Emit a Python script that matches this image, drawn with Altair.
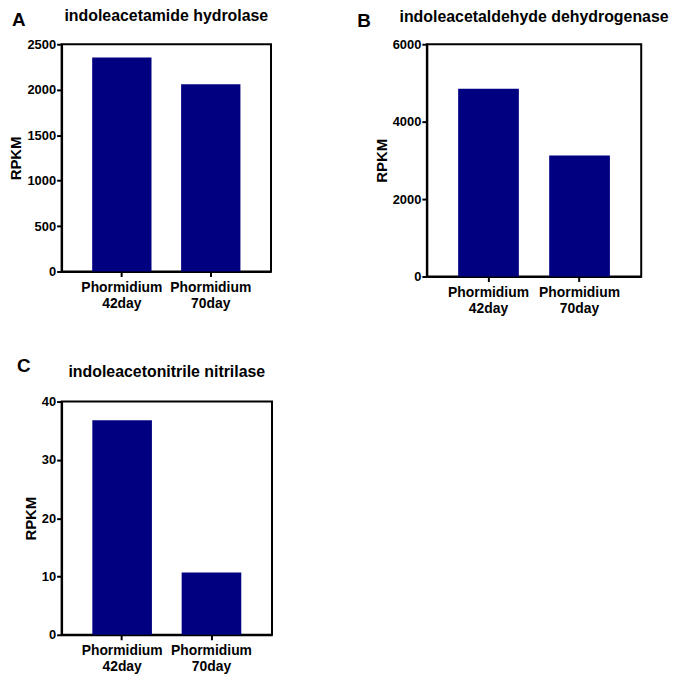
import altair as alt
import pandas as pd

categories = ["Phormidium 42day", "Phormidium 70day"]
a_values = [2355, 2060]
b_values = [4850, 3125]
c_values = [36.8, 10.7]

a_ticks = [0, 500, 1000, 1500, 2000, 2500]
b_ticks = [0, 2000, 4000, 6000]
c_ticks = [0, 10, 20, 30, 40]

panel_titles = [
    "indoleacetamide hydrolase",
    "indoleacetaldehyde dehydrogenase",
    "indoleacetonitrile nitrilase",
]
letters = ["A", "B", "C"]

FONT = "Liberation Sans"
BAR = "#000080"


def panel(values, title, letter, ticks, w, h, lx, ly, ty):
    df = pd.DataFrame({"category": categories, "value": values})
    bars = alt.Chart(df).mark_bar(color=BAR).encode(
        x=alt.X(
            "category:N",
            sort=categories,
            scale=alt.Scale(paddingInner=0.333, paddingOuter=0.344),
            axis=alt.Axis(
                title=None,
                labelAngle=0,
                labelExpr="split(datum.label, ' ')",
                labelLineHeight=16,
                labelFontSize=14,
                labelLimit=200,
                labelPadding=4,
            ),
        ),
        y=alt.Y(
            "value:Q",
            scale=alt.Scale(domain=[0, ticks[-1]], nice=False),
            axis=alt.Axis(values=ticks, format="d", title="RPKM",
                          titlePadding=3, labelPadding=1),
        ),
    )
    lab = alt.Chart(pd.DataFrame({"t": [letter]})).mark_text(
        align="left", baseline="top", fontSize=19, fontWeight="bold",
        font=FONT, color="black",
    ).encode(text="t:N", x=alt.value(lx), y=alt.value(ly))
    ttl = alt.Chart(pd.DataFrame({"t": [title]})).mark_text(
        align="center", baseline="top", fontSize=16, fontWeight="bold",
        font=FONT, color="black",
    ).encode(text="t:N", x=alt.value(w / 2), y=alt.value(ty))
    return alt.layer(bars, lab, ttl).properties(width=w, height=h)


pa = panel(a_values, panel_titles[0], letters[0], a_ticks, 211, 229, -50, -33.7, -36.5)
pb = panel(b_values, panel_titles[1], letters[1], b_ticks, 216, 234, -70, -32.4, -35)
pc = panel(c_values, panel_titles[2], letters[2], c_ticks, 212, 235, -45, -44.7, -37.5)

chart = alt.vconcat(
    alt.hconcat(pa, pb, spacing=85),
    alt.hconcat(pc),
    spacing=40,
).properties(
    padding={"left": 0, "top": -4, "right": 0, "bottom": 0}
).configure_axis(
    labelFont=FONT,
    labelFontWeight="bold",
    labelFontSize=13,
    labelColor="black",
    titleFont=FONT,
    titleFontWeight="bold",
    titleFontSize=15,
    titleColor="black",
    domainColor="black",
    domainWidth=2,
    tickColor="black",
    tickWidth=2,
    tickSize=5,
    grid=False,
).configure_view(
    stroke="black", strokeWidth=2
)

chart.save("out.html", embed_options={"renderer": "svg", "actions": False})
